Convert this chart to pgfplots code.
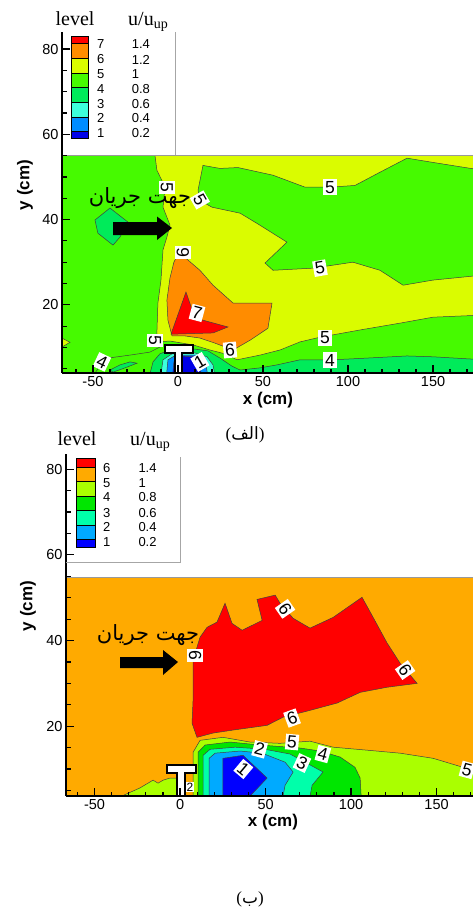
\documentclass[border=0pt]{standalone}
\usepackage{pgfplots}
\pgfplotsset{compat=1.18}
\usepackage{fontspec}
\setmainfont{Liberation Serif}
\setsansfont{Liberation Sans}
\newfontfamily\arabicfont[Script=Arabic]{DejaVu Sans}
\TeXXeTstate=1
% top chart colours
\definecolor{tA7}{RGB}{255,0,0}
\definecolor{tA6}{RGB}{255,140,0}
\definecolor{tA5}{RGB}{218,252,0}
\definecolor{tA4}{RGB}{70,250,0}
\definecolor{tA3}{RGB}{0,235,90}
\definecolor{tA2}{RGB}{60,255,220}
\definecolor{tA1}{RGB}{0,140,255}
\definecolor{tA0}{RGB}{0,0,230}
% bottom chart colours
\definecolor{bB6}{RGB}{255,0,0}
\definecolor{bB5}{RGB}{255,170,0}
\definecolor{bB4}{RGB}{170,255,0}
\definecolor{bB3}{RGB}{0,230,0}
\definecolor{bB2}{RGB}{0,255,170}
\definecolor{bB1}{RGB}{0,170,255}
\definecolor{bB0}{RGB}{0,0,255}
\tikzset{reg/.style={fill=#1, draw=black!75, line width=0.5pt},
  clab/.style={fill=white, inner sep=1.7pt, font=\sffamily\fontsize{17.5}{17.5}\selectfont},
  lnum/.style={anchor=west, inner sep=0pt, font=\sffamily\fontsize{13}{13}\selectfont}}
\pgfplotsset{myaxis/.style={scale only axis, anchor=south west,
  axis lines*=left, axis line style={line width=1.6pt},
  tick align=inside, xtick={-100,-50,0,50,100,150,200}, ytick={0,20,40,60,80,100},
  minor x tick num=4, minor y tick num=3, major tick length=8pt, minor tick length=4.5pt,
  tick style={black, line width=1.2pt},
  ticklabel style={font=\sffamily\fontsize{14.5}{15}\selectfont},
  /pgf/number format/assume math mode=true, axis on top}}
\begin{document}
\begin{tikzpicture}
\useasboundingbox (0pt,0pt) rectangle (473pt,-913pt);
% ===================== TOP CHART (alef) =====================
\begin{axis}[myaxis, at={(62pt,-373pt)}, width=411pt, height=341pt,
  xmin=-68.2, xmax=173.5, ymin=4, ymax=84]
\addplot[reg=tA4] coordinates {(-75,0) (180,0) (180,55) (-75,55)} -- cycle;
\addplot[reg=tA3] coordinates {(-48.8,39.9) (-40,42.7) (-29.4,39.4) (-34.1,35.9) (-38.2,34.0) (-47.1,36.8)} -- cycle;
\addplot[reg=tA5] coordinates {(-68.2,12.2) (-63.5,11.2) (-68.2,10.1)} -- cycle;
\addplot[reg=tA5] coordinates {(-13.5,55) (180,55) (180,17.6) (150,17.1) (130.6,15.7) (107.1,14.1) (83.5,12.4) (71.8,11.3) (60,9.4) (48.2,8.2) (34.7,7.1) (27.6,8.5) (18.8,9.4) (8.8,10.6) (-4.7,11.5) (-11.8,11.3) (-12.4,13.4) (-11.8,20.4) (-10,25.8) (-8.8,32.9) (-6.5,35.9) (-4.7,38.7) (-8.8,42.9) (-7.6,47.6) (-12.4,51.6)} -- cycle;
\addplot[reg=tA4] coordinates {(14.7,52.7) (24.7,52.0) (35.3,52.2) (55.9,50.4) (74.7,47.6) (89.4,47.6) (104.1,48.0) (118.8,51.1) (134.7,54.4) (150,53.4) (180,51.5) (180,27.0) (150,25.8) (132.4,24.6) (118.8,28.1) (102.9,30.0) (79.4,28.6) (55.9,28.1) (51.2,29.8) (64.1,34.7) (46.5,39.1) (36.5,41.5) (20,42.9) (12.9,44.5) (11.8,46.9)} -- cycle;
\addplot[reg=tA6] coordinates {(0.6,32.3) (12.9,28.1) (20.6,24.6) (32.4,20.4) (55.3,20.4) (52.9,14.5) (42.4,11.7) (32.4,9.4) (21.8,11.0) (12.9,12.2) (4.1,12.7) (-3.5,12.7) (-5.9,16.4) (-6.5,21.1) (-4.7,26.3) (-2.4,30)} -- cycle;
\addplot[reg=tA7] coordinates {(4.7,23.0) (10,16.9) (29.4,14.8) (20.6,13.4) (-4.1,13.1)} -- cycle;
\addplot[reg=tA3] coordinates {(-17.6,2) (-14.7,6.6) (-10.6,8.5) (-4.7,9.4) (10,9.6) (17.6,9.2) (24.7,7.5) (31.8,5.6) (36.5,4.7) (48.2,5.2) (58.2,5.9) (71.8,7.1) (91.2,7.1) (111.2,7.5) (134.7,8.0) (150,7.8) (180,7.1) (180,2)} -- cycle;
\addplot[reg=tA3] coordinates {(-40,4.7) (-34.1,5.9) (-28.2,6.6) (-24.1,6.3) (-31.2,5.2) (-38.2,4.2)} -- cycle;
\addplot[draw=black!75, line width=0.5pt] coordinates {(-48.8,4) (-45.9,5.6) (-41.2,7.5) (-28.2,8.2) (-16.5,8.9) (-10.6,10.1)};
\addplot[reg=tA2] coordinates {(-10.6,2) (-8.8,7.1) (-3.5,8.5) (10,8.7) (17.1,7.8) (20.6,5.9) (22.4,2)} -- cycle;
\addplot[reg=tA1] coordinates {(-7.1,2) (-5.9,7.1) (-1.2,8.2) (10.6,8.2) (15.9,7.1) (18.2,2)} -- cycle;
\addplot[reg=tA0] coordinates {(-3.5,2) (-2.4,6.6) (1.2,8.0) (9.4,7.8) (12.9,6.1) (14.1,2)} -- cycle;
\addplot[fill=white, draw=black, line width=1.5pt] coordinates {(-1.8,2) (-1.8,8.7) (-7.6,8.7) (-7.6,10.6) (8.8,10.6) (8.8,8.7) (2.4,8.7) (2.4,2)} -- cycle;
\addplot[gray!80, line width=0.8pt] coordinates {(-75,55) (180,55)};
\node[clab, rotate=-90] at (axis cs:-6.5,47.6) {5};
\node[clab, rotate=-60] at (axis cs:12.9,44.6) {5};
\node[clab] at (axis cs:89.4,47.6) {5};
\node[clab, rotate=90] at (axis cs:2.9,32.2) {6};
\node[clab, rotate=10] at (axis cs:83.5,28.6) {5};
\node[clab, rotate=-15] at (axis cs:11.2,18.1) {7};
\node[clab, rotate=-90] at (axis cs:-13.5,11.7) {5};
\node[clab, rotate=5] at (axis cs:30.6,9.4) {6};
\node[clab, rotate=30] at (axis cs:12.9,6.6) {1};
\node[clab, rotate=-25] at (axis cs:-44.7,6.6) {4};
\node[clab] at (axis cs:86.5,12.2) {5};
\node[clab] at (axis cs:89.4,7.0) {4};
\end{axis}
% ===================== BOTTOM CHART (be) =====================
\begin{axis}[myaxis, at={(66pt,-796pt)}, width=407pt, height=342pt,
  xmin=-66.7, xmax=171.3, ymin=3.7, ymax=83.55]
\addplot[reg=bB5] coordinates {(-75,0) (180,0) (180,54.8) (-75,54.8)} -- cycle;
\addplot[reg=bB6] coordinates {(7.6,35.4) (11.7,40.8) (15.8,43.1) (21.6,44.3) (26.3,48.7) (30.4,44.0) (36.3,42.4) (48.0,44.7) (45.0,49.6) (55.6,50.6) (58.5,48.7) (66.1,45.2) (76.0,42.9) (89.5,45.4) (106.4,50.1) (112.9,45.4) (121.1,39.4) (128.7,34.7) (138.6,30.0) (121.1,29.1) (105.3,27.9) (91.8,25.4) (76.0,23.7) (60.2,22.1) (50.9,20.2) (31.0,19.1) (19.3,18.4) (9.9,17.4) (7.0,20.7) (7.6,26.1)} -- cycle;
\addplot[reg=bB4] coordinates {(7.6,0) (7.6,13.9) (11.7,16.7) (25.1,17.4) (40.9,16.3) (58.5,16.0) (76.0,16.5) (89.5,15.1) (109.4,14.4) (128.7,13.7) (148.0,12.5) (171.3,9.7) (180,8.5) (180,0)} -- cycle;
\addplot[reg=bB4] coordinates {(-36,2) (-35.1,3.5) (-23.4,5.6) (-15.8,7.4) (-12.9,6.7) (-9.9,7.4) (-5.8,7.9) (-1.8,7.9) (-1.8,2)} -- cycle;
\addplot[reg=bB3] coordinates {(10.5,0) (10.5,13.9) (14.6,15.6) (29.2,16.3) (46.8,15.6) (70.2,14.9) (81.9,14.2) (93.6,12.8) (102.3,10.4) (105.3,7.9) (106.4,0)} -- cycle;
\addplot[reg=bB2] coordinates {(13.5,0) (13.5,13.2) (17.5,14.6) (32.2,15.1) (49.7,14.6) (64.3,13.5) (73.1,11.6) (83.6,9.3) (77.2,6.2) (74.3,0)} -- cycle;
\addplot[reg=bB1] coordinates {(17.0,0) (17.0,12.5) (20.5,13.7) (35.1,14.2) (48.0,13.7) (61.4,11.6) (66.1,9.3) (61.4,6.2) (58.5,0)} -- cycle;
\addplot[reg=bB0] coordinates {(25.1,0) (25.1,12.5) (36.8,13.2) (50.9,7.9) (32.2,0)} -- cycle;
\addplot[fill=white, draw=black, line width=1.5pt] coordinates {(-1.8,0) (-1.8,9.1) (-7.6,9.1) (-7.6,10.9) (9.4,10.9) (9.4,9.1) (2.9,9.1) (2.9,0)} -- cycle;
\addplot[gray!80, line width=0.8pt] coordinates {(-75,54.8) (180,54.8)};
\node[clab, rotate=-90] at (axis cs:8.8,36.6) {6};
\node[clab, rotate=-55] at (axis cs:61.4,47.4) {6};
\node[clab, rotate=-55] at (axis cs:131.6,33.1) {6};
\node[clab, rotate=20] at (axis cs:65.5,21.9) {6};
\node[clab, rotate=-5] at (axis cs:65.5,16.3) {5};
\node[clab, rotate=-15] at (axis cs:46.5,14.6) {2};
\node[clab, rotate=-40] at (axis cs:37.0,10.0) {1};
\node[clab, rotate=-25] at (axis cs:71.3,11.4) {3};
\node[clab, rotate=-15] at (axis cs:83.5,13.5) {4};
\node[clab, rotate=-15] at (axis cs:167.8,9.8) {5};
\node[clab, inner sep=0.6pt, font=\sffamily\fontsize{12}{12}\selectfont] at (axis cs:5.8,5.8) {2};
\end{axis}
% ===================== legends, labels, arrows =====================
% top legend
\filldraw[fill=tA7,draw=black,line width=0.5pt] (71pt,-36pt) rectangle (88pt,-43.5pt);
\filldraw[fill=tA6,draw=black,line width=0.5pt] (71pt,-43.5pt) rectangle (88pt,-58.2pt);
\filldraw[fill=tA5,draw=black,line width=0.5pt] (71pt,-58.2pt) rectangle (88pt,-72.9pt);
\filldraw[fill=tA4,draw=black,line width=0.5pt] (71pt,-72.9pt) rectangle (88pt,-87.6pt);
\filldraw[fill=tA3,draw=black,line width=0.5pt] (71pt,-87.6pt) rectangle (88pt,-102.3pt);
\filldraw[fill=tA2,draw=black,line width=0.5pt] (71pt,-102.3pt) rectangle (88pt,-117pt);
\filldraw[fill=tA1,draw=black,line width=0.5pt] (71pt,-117pt) rectangle (88pt,-131.7pt);
\filldraw[fill=tA0,draw=black,line width=0.5pt] (71pt,-131.7pt) rectangle (88pt,-138.5pt);
\node[lnum] at (97pt,-44.5pt) {7};   \node[lnum] at (131.7pt,-44.5pt) {1.4};
\node[lnum] at (97pt,-59.5pt) {6};   \node[lnum] at (131.7pt,-59.5pt) {1.2};
\node[lnum] at (97pt,-74.2pt) {5};   \node[lnum] at (131.7pt,-74.2pt) {1};
\node[lnum] at (97pt,-89pt) {4};     \node[lnum] at (131.7pt,-89pt) {0.8};
\node[lnum] at (97pt,-103.8pt) {3};  \node[lnum] at (131.7pt,-103.8pt) {0.6};
\node[lnum] at (97pt,-118.3pt) {2};  \node[lnum] at (131.7pt,-118.3pt) {0.4};
\node[lnum] at (97pt,-133pt) {1};    \node[lnum] at (131.7pt,-133pt) {0.2};
\node[anchor=base, inner sep=0pt, font=\fontsize{20}{20}\selectfont] at (75pt,-25pt) {level};
\node[anchor=base west, inner sep=0pt, font=\fontsize{20}{20}\selectfont] at (128pt,-25pt) {u/u\textsubscript{up}};
\draw[gray!70, line width=0.8pt] (175pt,-32pt) -- (175pt,-155pt);
% bottom legend
\filldraw[fill=bB6,draw=black,line width=0.5pt] (76pt,-458.3pt) rectangle (95pt,-467pt);
\filldraw[fill=bB5,draw=black,line width=0.5pt] (76pt,-467pt) rectangle (95pt,-481pt);
\filldraw[fill=bB4,draw=black,line width=0.5pt] (76pt,-481pt) rectangle (95pt,-496pt);
\filldraw[fill=bB3,draw=black,line width=0.5pt] (76pt,-496pt) rectangle (95pt,-510.5pt);
\filldraw[fill=bB2,draw=black,line width=0.5pt] (76pt,-510.5pt) rectangle (95pt,-525pt);
\filldraw[fill=bB1,draw=black,line width=0.5pt] (76pt,-525pt) rectangle (95pt,-539.5pt);
\filldraw[fill=bB0,draw=black,line width=0.5pt] (76pt,-539.5pt) rectangle (95pt,-547pt);
\node[lnum] at (103pt,-468.3pt) {6};  \node[lnum] at (138.3pt,-468.3pt) {1.4};
\node[lnum] at (103pt,-482.7pt) {5};  \node[lnum] at (138.3pt,-482.7pt) {1};
\node[lnum] at (103pt,-497.3pt) {4};  \node[lnum] at (138.3pt,-497.3pt) {0.8};
\node[lnum] at (103pt,-512.7pt) {3};  \node[lnum] at (138.3pt,-512.7pt) {0.6};
\node[lnum] at (103pt,-527.3pt) {2};  \node[lnum] at (138.3pt,-527.3pt) {0.4};
\node[lnum] at (103pt,-541.7pt) {1};  \node[lnum] at (138.3pt,-541.7pt) {0.2};
\node[anchor=base, inner sep=0pt, font=\fontsize{20}{20}\selectfont] at (77pt,-445pt) {level};
\node[anchor=base west, inner sep=0pt, font=\fontsize{20}{20}\selectfont] at (130pt,-445pt) {u/u\textsubscript{up}};
\draw[gray!70, line width=0.8pt] (180pt,-457pt) -- (180pt,-562pt) -- (66pt,-562pt);
% axis titles
\node[font=\sffamily\bfseries\fontsize{17}{17}\selectfont] at (268pt,-400pt) {x (cm)};
\node[font=\sffamily\bfseries\fontsize{17}{17}\selectfont, rotate=90] at (25pt,-185pt) {y (cm)};
\node[font=\sffamily\bfseries\fontsize{17}{17}\selectfont] at (273pt,-822pt) {x (cm)};
\node[font=\sffamily\bfseries\fontsize{17}{17}\selectfont, rotate=90] at (28pt,-606pt) {y (cm)};
% flow arrows and text
\fill[black] (113pt,-222pt) -- (157pt,-222pt) -- (157pt,-216.5pt) -- (172pt,-228pt) -- (157pt,-240pt) -- (157pt,-235pt) -- (113pt,-235pt) -- cycle;
\fill[black] (120pt,-657pt) -- (163pt,-657pt) -- (163pt,-650pt) -- (178pt,-662pt) -- (163pt,-675pt) -- (163pt,-668pt) -- (120pt,-668pt) -- cycle;
\node[font=\arabicfont\fontsize{21}{21}\selectfont] at (140pt,-198pt) {\beginR جهت جریان\endR};
\node[font=\arabicfont\fontsize{21}{21}\selectfont] at (148pt,-635pt) {\beginR جهت جریان\endR};
% captions
\node[font=\fontsize{17}{17}\selectfont] at (245pt,-435pt) {({\arabicfont\beginR الف\endR})};
\node[font=\fontsize{17}{17}\selectfont] at (250pt,-899pt) {({\arabicfont\beginR ب\endR})};
\end{tikzpicture}
\end{document}
